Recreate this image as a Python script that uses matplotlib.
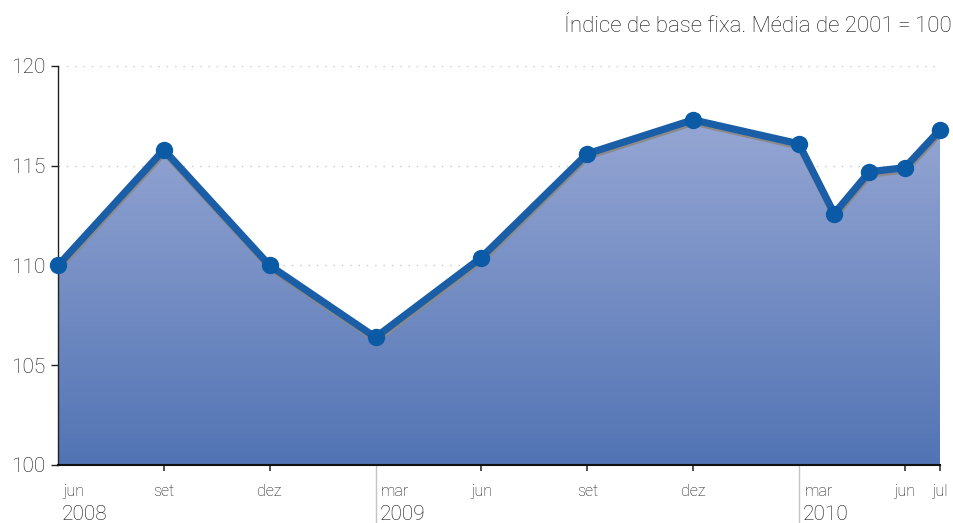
import matplotlib
matplotlib.use("Agg")
import matplotlib.pyplot as plt
import numpy as np
import matplotlib.patheffects as pe
from matplotlib.transforms import blended_transform_factory

plt.rcParams['font.family'] = ['Roboto', 'DejaVu Sans']

# ---- data ----
point_dates = [(2008, 6), (2008, 9), (2008, 12), (2009, 3), (2009, 6), (2009, 9),
               (2009, 12), (2010, 3), (2010, 4), (2010, 5), (2010, 6), (2010, 7)]
values = [110.0, 115.8, 110.0, 106.4, 110.4, 115.6, 117.3, 116.1, 112.6, 114.7, 114.9, 116.8]
tick_dates = [(2008, 6), (2008, 9), (2008, 12), (2009, 3), (2009, 6), (2009, 9),
              (2009, 12), (2010, 3), (2010, 6), (2010, 7)]
tick_labels = ['jun', 'set', 'dez', 'mar', 'jun', 'set', 'dez', 'mar', 'jun', 'jul']
year_dates = [(2008, 6), (2009, 3), (2010, 3)]
year_labels = ['2008', '2009', '2010']
y_ticks = [100, 105, 110, 115, 120]
title = 'Índice de base fixa. Média de 2001\u2009=\u2009100'

start = (2008, 6)
def midx(d):
    return (d[0] - start[0]) * 12 + (d[1] - start[1])

x = np.array([midx(d) for d in point_dates], dtype=float)
y = np.array(values)
tx = [midx(d) for d in tick_dates]
yx = [midx(d) for d in year_dates]

fig = plt.figure(figsize=(9.54, 5.23), dpi=100)
ax = fig.add_axes([58/954, 1-465/523, (940-58)/954, (465-66)/523])
ax.set_xlim(x[0], x[-1])
ax.set_ylim(100, 120)

# gradient fill
poly = ax.fill_between(x, 100, y, color='none', lw=0)
top = np.array([160, 174, 216]) / 255
bot = np.array([82, 116, 180]) / 255
t = np.linspace(0, 1, 256)[:, None]
grad = bot * (1 - t) + top * t
grad = grad[:, None, :]
im = ax.imshow(grad, extent=[x[0], x[-1], 100, 120], origin='lower', aspect='auto',
               interpolation='bilinear', zorder=1)
path = poly.get_paths()[0]
im.set_clip_path(path, transform=ax.transData)

# grid
for v in y_ticks[1:]:
    ax.axhline(v, color='#c9c9c9', lw=1, ls=(0, (1, 5)), zorder=0.5)

# line with shadow
ax.plot(x, y, color='#1b5ea8', lw=5.2, solid_capstyle='round', zorder=3,
        path_effects=[pe.SimpleLineShadow(offset=(0.5, -1.6), shadow_color='#8a8a8a', alpha=1),
                      pe.Normal()])
ax.plot(x, y, ls='none', marker='o', ms=11.5, color='#0a5aa6', zorder=4, clip_on=False)

# spines
for s in ['top', 'right']:
    ax.spines[s].set_visible(False)
ax.spines['left'].set_color('#222222')
ax.spines['bottom'].set_color('#111111')
ax.spines['bottom'].set_linewidth(1.5)
ax.spines['left'].set_linewidth(1.0)

TXT = '#111111'
ax.set_yticks(y_ticks)
ax.set_yticklabels([str(v) for v in y_ticks])
ax.tick_params(axis='y', length=5, width=1, color='#222222', labelsize=15,
               labelcolor=TXT, pad=4)
for lab in ax.get_yticklabels():
    lab.set_fontweight('light')

# x ticks (small marks for interior months)
ax.set_xticks([v for v in tx if v not in yx])
ax.set_xticklabels([])
ax.tick_params(axis='x', length=4, width=1.2, color='#333333', direction='out')

trans = blended_transform_factory(ax.transData, ax.transAxes)
# separators
for v in yx[1:]:
    ax.plot([v, v], [0, -0.15], transform=trans, color='#c4c4c4', lw=1, clip_on=False)

for v, lab in zip(tx, tick_labels):
    if v in yx:
        ax.annotate(lab, (v, 0), xycoords=trans, xytext=(4, -19), textcoords='offset points',
                    ha='left', va='center', fontsize=11.5, color=TXT, fontweight='light')
    else:
        ax.annotate(lab, (v, 0), xycoords=trans, xytext=(0, -19), textcoords='offset points',
                    ha='center', va='center', fontsize=11.5, color=TXT, fontweight='light')
for v, lab in zip(yx, year_labels):
    ax.annotate(lab, (v, 0), xycoords=trans, xytext=(3, -36), textcoords='offset points',
                ha='left', va='center', fontsize=15, color=TXT, fontweight='light')

fig.text(952/954, 1-27/523, title, ha='right', va='center', fontsize=16,
         color=TXT, fontweight='light')

fig.savefig('out.png', dpi=100)
